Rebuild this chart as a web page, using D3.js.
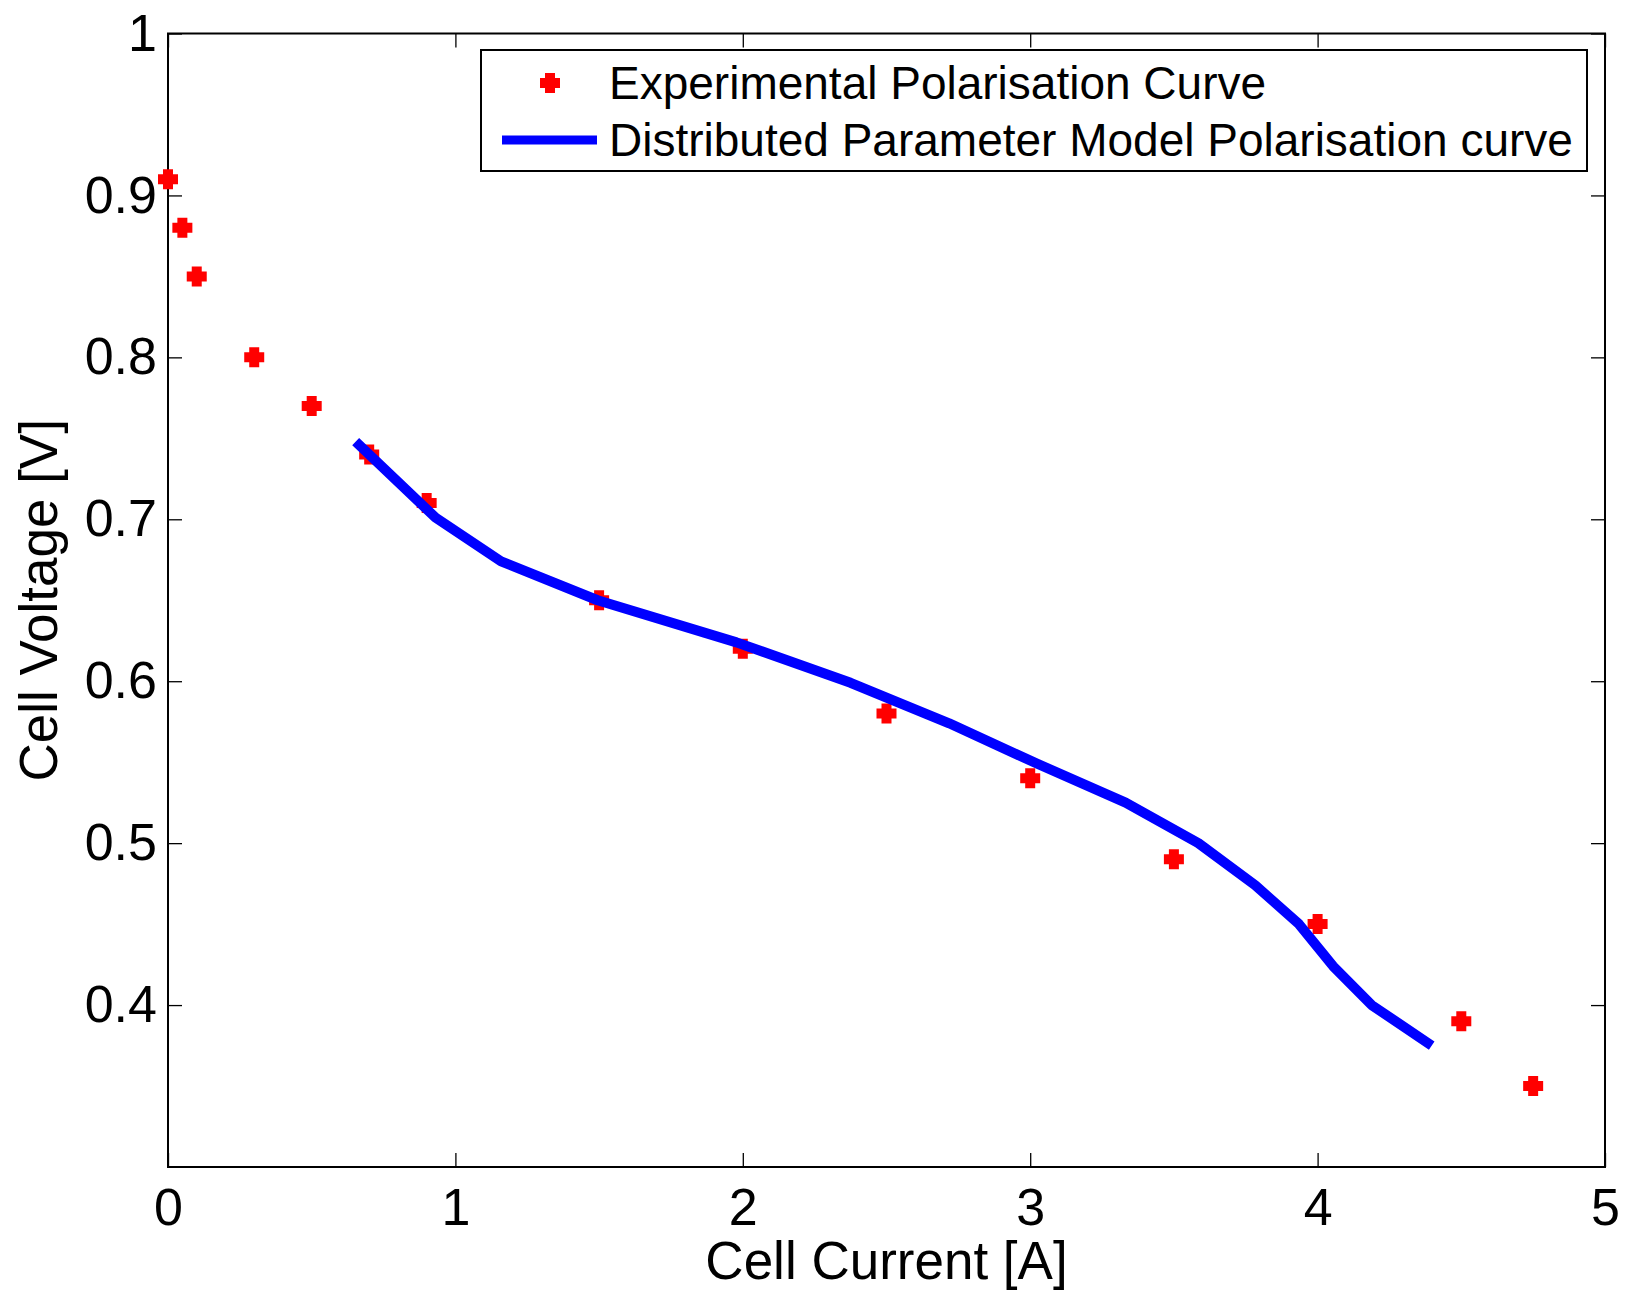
<!DOCTYPE html>
<html>
<head>
<meta charset="utf-8">
<script src="https://cdn.jsdelivr.net/npm/d3@7"></script>
<style>
  body { margin: 0; background: #fff; }
  svg { display: block; font-family: 'Liberation Sans', Arial, sans-serif; }
</style>
</head>
<body>
<div id="chart-area"></div>
<script>
const width = 1627;
const height = 1300;
const margin = { top: 33.5, right: 22, bottom: 133, left: 168 };

// experimental polarisation curve
const expCurrent = [0, 0.05, 0.1, 0.3, 0.5, 0.7, 0.9, 1.5, 2, 2.5, 3, 3.5, 4, 4.5, 4.75];
const expVoltage = [0.91, 0.88, 0.85, 0.8, 0.77, 0.74, 0.71, 0.65, 0.62, 0.58, 0.54, 0.49, 0.45, 0.39, 0.35];

// distributed parameter model curve
const modelCurrent = [0.653, 0.931, 1.159, 1.495, 1.978, 2.375, 2.718, 3.025, 3.332, 3.585, 3.783, 3.935, 4.054, 4.188, 4.397];
const modelVoltage = [0.748, 0.701, 0.674, 0.65, 0.624, 0.599, 0.574, 0.549, 0.525, 0.5, 0.474, 0.45, 0.424, 0.4, 0.375];

const xTicks = [0, 1, 2, 3, 4, 5];
const yTicks = [0.4, 0.5, 0.6, 0.7, 0.8, 0.9, 1];
const legendLabels = ['Experimental Polarisation Curve', 'Distributed Parameter Model Polarisation curve'];

const innerW = width - margin.left - margin.right;
const innerH = height - margin.top - margin.bottom;

const x = d3.scaleLinear().domain([0, 5]).range([0, innerW]);
const y = d3.scaleLinear().domain([0.3, 1]).range([innerH, 0]);

const svg = d3
  .select('#chart-area')
  .append('svg')
  .attr('width', width)
  .attr('height', height);

const g = svg.append('g').attr('transform', `translate(${margin.left},${margin.top})`);

const tickLen = 14;
const fmt = d3.format('');

function styleAxis(sel) {
  sel.select('.domain').remove();
  sel.selectAll('.tick line').attr('stroke', '#000').attr('stroke-width', 1.3);
  sel.selectAll('.tick text').attr('fill', '#000').attr('font-size', 52);
}

g.append('g')
  .attr('transform', `translate(0,${innerH})`)
  .call(d3.axisBottom(x).tickValues(xTicks).tickFormat(fmt).tickSizeInner(-tickLen).tickSizeOuter(0).tickPadding(21))
  .call(styleAxis);

g.append('g')
  .call(d3.axisTop(x).tickValues(xTicks).tickFormat('').tickSizeInner(-tickLen).tickSizeOuter(0))
  .call(styleAxis);

g.append('g')
  .call(d3.axisLeft(y).tickValues(yTicks).tickFormat(fmt).tickSizeInner(-tickLen).tickSizeOuter(0).tickPadding(11))
  .call(styleAxis);

g.append('g')
  .attr('transform', `translate(${innerW},0)`)
  .call(d3.axisRight(y).tickValues(yTicks).tickFormat('').tickSizeInner(-tickLen).tickSizeOuter(0))
  .call(styleAxis);

// axes box
g.append('rect')
  .attr('width', innerW)
  .attr('height', innerH)
  .attr('fill', 'none')
  .attr('stroke', '#000')
  .attr('stroke-width', 2);

// fat plus marker
const crossPath = 'M-5,-10H5V-5H10V5H5V10H-5V5H-10V-5H-5Z';

g.append('g')
  .selectAll('path')
  .data(d3.zip(expCurrent, expVoltage))
  .join('path')
  .attr('d', crossPath)
  .attr('fill', '#ff0000')
  .attr('transform', (d) => `translate(${x(d[0])},${y(d[1])})`);

const line = d3
  .line()
  .x((d) => x(d[0]))
  .y((d) => y(d[1]));

g.append('path')
  .datum(d3.zip(modelCurrent, modelVoltage))
  .attr('d', line)
  .attr('fill', 'none')
  .attr('stroke', '#0000ff')
  .attr('stroke-width', 10)
  .attr('stroke-linejoin', 'round');

// axis labels
svg.append('text')
  .attr('x', margin.left + innerW / 2)
  .attr('y', 1279)
  .attr('text-anchor', 'middle')
  .attr('font-size', 53)
  .text('Cell Current [A]');

svg.append('text')
  .attr('transform', `translate(57,${margin.top + innerH / 2}) rotate(-90)`)
  .attr('text-anchor', 'middle')
  .attr('font-size', 53)
  .text('Cell Voltage [V]');

// legend
const legend = svg.append('g').attr('transform', 'translate(481,50)');
legend.append('rect')
  .attr('width', 1106)
  .attr('height', 121)
  .attr('fill', '#fff')
  .attr('stroke', '#000')
  .attr('stroke-width', 2);

legend.append('path')
  .attr('d', crossPath)
  .attr('fill', '#ff0000')
  .attr('transform', 'translate(69,33)');

legend.append('line')
  .attr('x1', 21)
  .attr('x2', 116)
  .attr('y1', 90)
  .attr('y2', 90)
  .attr('stroke', '#0000ff')
  .attr('stroke-width', 9);

legend.selectAll('text')
  .data(legendLabels)
  .join('text')
  .attr('x', 128)
  .attr('y', (d, i) => 48.5 + i * 57)
  .attr('font-size', 46)
  .text((d) => d);
</script>
</body>
</html>
